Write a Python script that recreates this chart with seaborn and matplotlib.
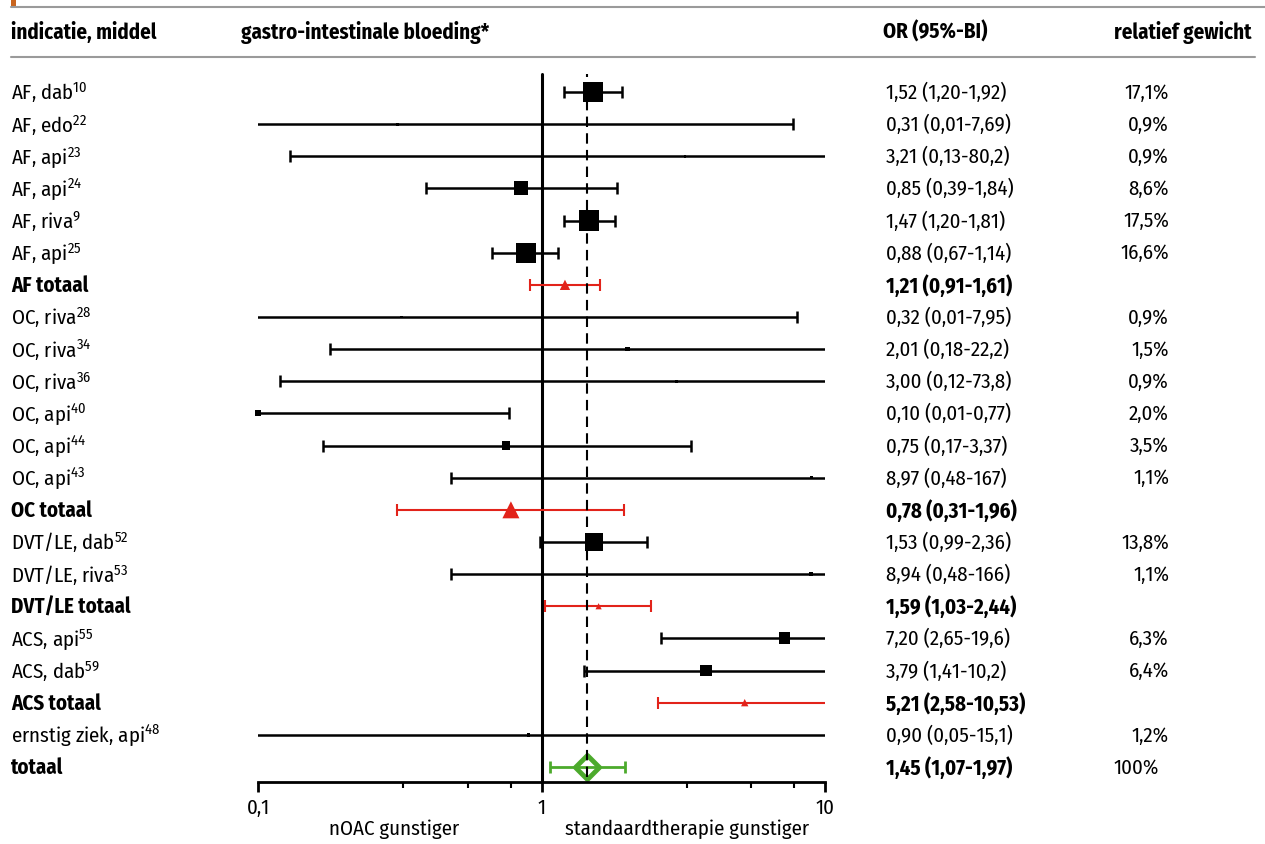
import matplotlib
matplotlib.use("Agg")
import numpy as np
import pandas as pd
import matplotlib.pyplot as plt
import seaborn as sns
from matplotlib.lines import Line2D
from matplotlib.patches import Rectangle

# ---- data ----
labels = ["AF, dab", "AF, edo", "AF, api", "AF, api", "AF, riva", "AF, api", "AF totaal",
          "OC, riva", "OC, riva", "OC, riva", "OC, api", "OC, api", "OC, api", "OC totaal",
          "DVT/LE, dab", "DVT/LE, riva", "DVT/LE totaal",
          "ACS, api", "ACS, dab", "ACS totaal", "ernstig ziek, api", "totaal"]
refs = ["10", "22", "23", "24", "9", "25", "", "28", "34", "36", "40", "44", "43", "",
        "52", "53", "", "55", "59", "", "48", ""]
row_type = ["study"] * 6 + ["sub"] + ["study"] * 6 + ["sub"] + ["study"] * 2 + ["sub"] + \
           ["study"] * 2 + ["sub"] + ["study"] + ["overall"]
odds = [1.52, 0.31, 3.21, 0.85, 1.47, 0.88, 1.21, 0.32, 2.01, 3.00, 0.10, 0.75, 8.97, 0.78,
        1.53, 8.94, 1.59, 7.20, 3.79, 5.21, 0.90, 1.45]
lower = [1.20, 0.01, 0.13, 0.39, 1.20, 0.67, 0.91, 0.01, 0.18, 0.12, 0.01, 0.17, 0.48, 0.31,
         0.99, 0.48, 1.03, 2.65, 1.41, 2.58, 0.05, 1.07]
upper = [1.92, 7.69, 80.2, 1.84, 1.81, 1.14, 1.61, 7.95, 22.2, 73.8, 0.77, 3.37, 167, 1.96,
         2.36, 166, 2.44, 19.6, 10.2, 10.53, 15.1, 1.97]
or_text = ["1,52 (1,20-1,92)", "0,31 (0,01-7,69)", "3,21 (0,13-80,2)", "0,85 (0,39-1,84)",
           "1,47 (1,20-1,81)", "0,88 (0,67-1,14)", "1,21 (0,91-1,61)", "0,32 (0,01-7,95)",
           "2,01 (0,18-22,2)", "3,00 (0,12-73,8)", "0,10 (0,01-0,77)", "0,75 (0,17-3,37)",
           "8,97 (0,48-167)", "0,78 (0,31-1,96)", "1,53 (0,99-2,36)", "8,94 (0,48-166)",
           "1,59 (1,03-2,44)", "7,20 (2,65-19,6)", "3,79 (1,41-10,2)", "5,21 (2,58-10,53)",
           "0,90 (0,05-15,1)", "1,45 (1,07-1,97)"]
weights = [17.1, 0.9, 0.9, 8.6, 17.5, 16.6, np.nan, 0.9, 1.5, 0.9, 2.0, 3.5, 1.1, np.nan,
           13.8, 1.1, np.nan, 6.3, 6.4, np.nan, 1.2, 100]
pooled_or = 1.45

df = pd.DataFrame({"label": labels, "ref": refs, "type": row_type, "OR": odds,
                   "lo": lower, "hi": upper, "txt": or_text, "w": weights})
df["row"] = np.arange(len(df))

# ---- style ----
sns.set_theme(style="white")
plt.rcParams["font.family"] = ["Fira Sans Condensed", "PT Sans Narrow", "DejaVu Sans"]
plt.rcParams["mathtext.default"] = "regular"
plt.rcParams["text.color"] = "black"
plt.rcParams["xtick.color"] = "black"

W, H = 1265, 845
fig = plt.figure(figsize=(W / 100, H / 100), dpi=100)

def fx(px):
    return px / W

def fy(py):
    return 1 - py / H

# axes placed so that 0.1 -> 258px, 10 -> 825px, bottom spine at 783px
ax = fig.add_axes([fx(258), fy(783), fx(825) - fx(258), fy(60) - fy(783)])
row0, step = 93, 32.14
ax.set_ylim((783 - row0) / step, (60 - row0) / step)
ax.set_xscale("log")
ax.set_xlim(0.1, 10)

red = "#e2231a"
green = "#4caa2c"

# confidence intervals
studies = df[df["type"] == "study"]
subs = df[df["type"] == "sub"]
overall = df[df["type"] == "overall"]
for d, col, lw in [(studies, "black", 1.8), (subs, red, 1.5), (overall, green, 2.0)]:
    ax.errorbar(d["OR"], d["row"], xerr=[d["OR"] - d["lo"], d["hi"] - d["OR"]],
                fmt="none", ecolor=col, elinewidth=lw, capsize=4, capthick=lw, zorder=3)

# reference lines
ax.axvline(1, ymin=0, ymax=(783 - 75) / (783 - 60), color="black", lw=2.2, zorder=2)
ax.axvline(pooled_or, ymin=(783 - 778) / (783 - 60), ymax=(783 - 75) / (783 - 60),
           color="black", lw=1.5, ls=(0, (5, 3)), zorder=6)

# study squares (area ~ weight)
sns.scatterplot(data=studies, x="OR", y="row", size="w", sizes=(4, 215), size_norm=(0.9, 17.5),
                marker="s", color="black", edgecolor="black", linewidth=0, legend=False,
                ax=ax, zorder=4, clip_on=False)
# subtotal triangles
sub_area = [55, 150, 20, 28]
sns.scatterplot(data=subs, x="OR", y="row", marker="^", color=red, s=sub_area,
                edgecolor=red, linewidth=0, legend=False, ax=ax, zorder=4)
# overall diamond
sns.scatterplot(data=overall, x="OR", y="row", marker="D", s=150, color="white",
                edgecolor=green, linewidth=3.5, legend=False, ax=ax, zorder=2.5)

# axes styling
fs = 15
sns.despine(ax=ax, left=True, top=True, right=True)
ax.spines["bottom"].set_linewidth(2)
ax.spines["bottom"].set_color("black")
ax.set_yticks([])
ax.set_xticks([0.1, 1, 10])
ax.set_xticklabels(["0,1", "1", "10"])
ax.set_xticks([0.325, 0.55, 0.78, 3.25, 5.5, 7.8], minor=True)
ax.xaxis.set_minor_formatter(matplotlib.ticker.NullFormatter())
ax.tick_params(axis="x", which="major", bottom=True, length=7, width=2, labelsize=fs,
               pad=4, colors="black")
ax.tick_params(axis="x", which="minor", bottom=True, length=4, width=1.5)
ax.set_xlabel("")
ax.set_ylabel("")
ax.grid(False)
ax.patch.set_alpha(0)

# ---- text columns ----
for _, r in df.iterrows():
    y = fy(row0 + step * r["row"])
    bold = r["type"] != "study"
    lab = r["label"] + (r"$^{\mathregular{%s}}$" % r["ref"] if r["ref"] else "")
    fig.text(fx(11), y, lab, fontsize=fs, va="center", ha="left",
             fontweight="bold" if bold else "normal")
    fig.text(fx(886), y, r["txt"], fontsize=fs, va="center", ha="left",
             fontweight="bold" if bold else "normal")
    if r["type"] == "study":
        fig.text(fx(1169), y, f"{r['w']:.1f}%".replace(".", ","), fontsize=fs,
                 va="center", ha="right")
    elif r["type"] == "overall":
        fig.text(fx(1114), y, f"{r['w']:.0f}%", fontsize=fs, va="center", ha="left")

# headers
hy = fy(32)
fig.text(fx(11), hy, "indicatie, middel", fontsize=fs, fontweight="bold", va="center")
fig.text(fx(241), hy, "gastro-intestinale bloeding*", fontsize=fs, fontweight="bold", va="center")
fig.text(fx(883), hy, "OR (95%-BI)", fontsize=fs, fontweight="bold", va="center")
fig.text(fx(1251), hy, "relatief gewicht", fontsize=fs, fontweight="bold", va="center", ha="right")

fig.add_artist(Line2D([fx(11), fx(1265)], [fy(8), fy(8)], color="#9a9a9a", lw=1.5))
fig.add_artist(Line2D([fx(11), fx(1255)], [fy(58), fy(58)], color="#9a9a9a", lw=1.5))
fig.add_artist(Rectangle((fx(11), fy(9)), fx(5), fy(0) - fy(9), color="#c8641e", lw=0))

# favour labels
fig.text(fx(394), fy(829), "nOAC gunstiger", fontsize=fs, ha="center", va="center")
fig.text(fx(687), fy(829), "standaardtherapie gunstiger", fontsize=fs, ha="center", va="center")

fig.savefig("out.png", dpi=100)
